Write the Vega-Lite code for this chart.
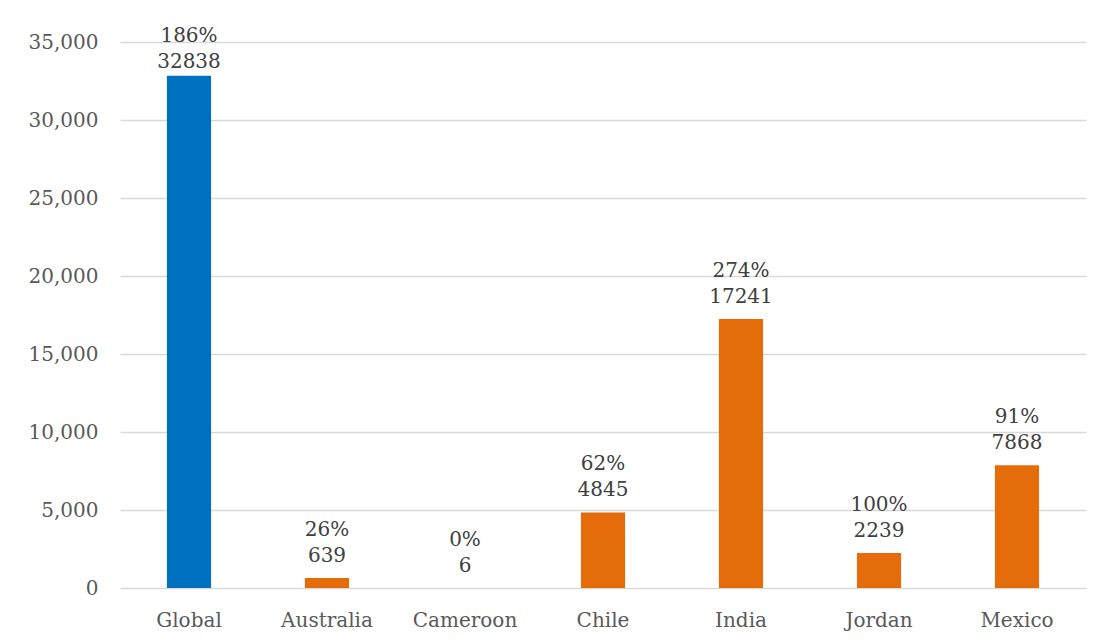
{
  "$schema": "https://vega.github.io/schema/vega-lite/v6.json",
  "width": 966,
  "height": 546,
  "autosize": {"type": "none"},
  "padding": {"left": 120, "top": 42, "right": 16, "bottom": 53},
  "background": "white",
  "data": {
    "values": [
      {"country": "Global", "value": 32838, "pct": "186%", "group": "global"},
      {"country": "Australia", "value": 639, "pct": "26%", "group": "country"},
      {"country": "Cameroon", "value": 6, "pct": "0%", "group": "country"},
      {"country": "Chile", "value": 4845, "pct": "62%", "group": "country"},
      {"country": "India", "value": 17241, "pct": "274%", "group": "country"},
      {"country": "Jordan", "value": 2239, "pct": "100%", "group": "country"},
      {"country": "Mexico", "value": 7868, "pct": "91%", "group": "country"}
    ]
  },
  "encoding": {
    "x": {
      "field": "country",
      "type": "nominal",
      "sort": null,
      "scale": {"paddingInner": 0.68, "paddingOuter": 0.34},
      "axis": {
        "title": null,
        "domain": false,
        "ticks": false,
        "labelAngle": 0,
        "labelPadding": 22,
        "labelFont": "DejaVu Serif",
        "labelFontSize": 20,
        "labelColor": "#595959"
      }
    },
    "y": {
      "field": "value",
      "type": "quantitative",
      "scale": {"domain": [0, 35000], "nice": false},
      "axis": {
        "title": null,
        "domain": false,
        "ticks": false,
        "values": [0, 5000, 10000, 15000, 20000, 25000, 30000, 35000],
        "format": ",.0f",
        "labelPadding": 22,
        "labelFont": "DejaVu Serif",
        "labelFontSize": 20,
        "labelColor": "#595959",
        "gridColor": "#D9D9D9",
        "gridWidth": 1.5
      }
    }
  },
  "layer": [
    {
      "mark": {"type": "bar"},
      "encoding": {
        "color": {
          "field": "group",
          "type": "nominal",
          "scale": {"domain": ["global", "country"], "range": ["#0070C0", "#E46C0A"]},
          "legend": null
        }
      }
    },
    {
      "transform": [{"filter": "datum.country !== 'Global'"}],
      "mark": {"type": "text", "font": "DejaVu Serif", "fontSize": 20, "color": "#404040", "baseline": "alphabetic", "dy": -16},
      "encoding": {"text": {"field": "value", "type": "quantitative", "format": "d"}}
    },
    {
      "transform": [{"filter": "datum.country !== 'Global'"}],
      "mark": {"type": "text", "font": "DejaVu Serif", "fontSize": 20, "color": "#404040", "baseline": "alphabetic", "dy": -42},
      "encoding": {"text": {"field": "pct", "type": "nominal"}}
    },
    {
      "transform": [{"filter": "datum.country === 'Global'"}],
      "mark": {"type": "text", "font": "DejaVu Serif", "fontSize": 20, "color": "#404040", "baseline": "alphabetic", "dy": -8},
      "encoding": {"text": {"field": "value", "type": "quantitative", "format": "d"}}
    },
    {
      "transform": [{"filter": "datum.country === 'Global'"}],
      "mark": {"type": "text", "font": "DejaVu Serif", "fontSize": 20, "color": "#404040", "baseline": "alphabetic", "dy": -34},
      "encoding": {"text": {"field": "pct", "type": "nominal"}}
    }
  ],
  "config": {"view": {"stroke": null}}
}
